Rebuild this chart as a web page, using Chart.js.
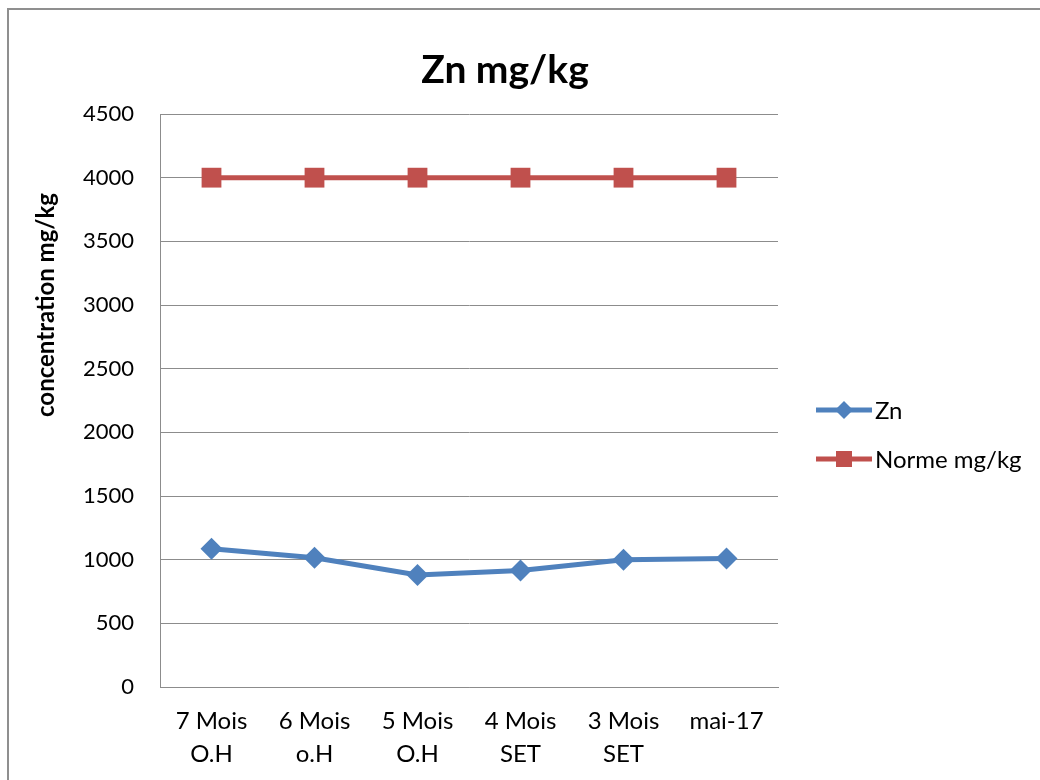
<!DOCTYPE html>
<html>
<head>
<meta charset="utf-8">
<script src="https://cdn.jsdelivr.net/npm/chart.js@4.4.1/dist/chart.umd.min.js"></script>
<style>
  html, body { margin: 0; padding: 0; background: #ffffff; }
  #wrap { width: 1040px; height: 780px; position: relative; }
</style>
</head>
<body>
<div id="wrap"><canvas id="c" width="1040" height="780"></canvas></div>
<script>
// Sampling periods (two-line labels on the category axis)
const categories = [
  ['7 Mois', 'O.H'],
  ['6 Mois', 'o.H'],
  ['5 Mois', 'O.H'],
  ['4 Mois', 'SET'],
  ['3 Mois', 'SET'],
  ['mai-17']
];

// Zinc concentration measured (mg/kg)
const znValues = [1085, 1015, 880, 915, 1000, 1010];

// Regulatory limit (mg/kg)
const normeValues = [4000, 4000, 4000, 4000, 4000, 4000];

// Value axis ticks
const yTicks = [0, 500, 1000, 1500, 2000, 2500, 3000, 3500, 4000, 4500];

const chartTitle = 'Zn mg/kg';
const yAxisTitle = 'concentration mg/kg';
const seriesNames = ['Zn', 'Norme mg/kg'];

const BLUE = '#4F81BD';
const RED = '#C0504D';
const GRID = '#8c8c8c';
const FONT = 'Lato, "Open Sans", "DejaVu Sans", sans-serif';

// Frame, title, rotated axis title and line+marker legend
const decorations = {
  id: 'decorations',
  beforeDraw(chart) {
    const ctx = chart.ctx;
    ctx.save();
    ctx.fillStyle = '#ffffff';
    ctx.fillRect(0, 0, chart.width, chart.height);
    ctx.restore();
  },
  afterDraw(chart) {
    const ctx = chart.ctx;
    ctx.save();
    // outer frame
    ctx.strokeStyle = '#8f8f8f';
    ctx.lineWidth = 2;
    ctx.strokeRect(8, 9, chart.width + 20, chart.height + 20);

    // chart title
    ctx.fillStyle = '#000000';
    ctx.font = 'bold 39px ' + FONT;
    ctx.textAlign = 'center';
    ctx.textBaseline = 'middle';
    ctx.fillText(chartTitle, 505, 70);

    // rotated y-axis title
    ctx.font = 'bold 24px ' + FONT;
    ctx.translate(46, 305);
    ctx.rotate(-Math.PI / 2);
    ctx.fillText(yAxisTitle, 0, 0);
    ctx.restore();

    // legend
    const items = chart.data.datasets.map((ds, i) => ({
      text: seriesNames[i], color: ds.borderColor, style: ds.pointStyle
    }));
    const rows = [410, 459];
    items.forEach((it, i) => {
      const y = rows[i];
      ctx.save();
      ctx.strokeStyle = it.color;
      ctx.lineWidth = 5;
      ctx.beginPath();
      ctx.moveTo(816, y);
      ctx.lineTo(872, y);
      ctx.stroke();
      ctx.fillStyle = it.color;
      const cx = 844;
      if (it.style === 'rectRot') {
        const r = 9;
        ctx.beginPath();
        ctx.moveTo(cx, y - r);
        ctx.lineTo(cx + r, y);
        ctx.lineTo(cx, y + r);
        ctx.lineTo(cx - r, y);
        ctx.closePath();
        ctx.fill();
      } else {
        ctx.fillRect(cx - 8, y - 8, 16, 16);
      }
      ctx.fillStyle = '#000000';
      ctx.font = '24px ' + FONT;
      ctx.textAlign = 'left';
      ctx.textBaseline = 'middle';
      ctx.fillText(it.text, 875, y + 1);
      ctx.restore();
    });
  }
};

new Chart(document.getElementById('c'), {
  type: 'line',
  data: {
    labels: categories,
    datasets: [
      {
        label: seriesNames[0],
        data: znValues,
        borderColor: BLUE,
        backgroundColor: BLUE,
        borderWidth: 5,
        pointStyle: 'rectRot',
        pointRadius: 11,
        pointHoverRadius: 11,
        pointBorderWidth: 0,
        tension: 0
      },
      {
        label: seriesNames[1],
        data: normeValues,
        borderColor: RED,
        backgroundColor: RED,
        borderWidth: 5,
        pointStyle: 'rect',
        pointRadius: 14,
        pointHoverRadius: 14,
        pointBorderWidth: 0,
        tension: 0
      }
    ]
  },
  options: {
    responsive: false,
    animation: false,
    devicePixelRatio: 1,
    layout: { padding: { left: 0, right: 262, top: 114, bottom: 0 } },
    plugins: {
      legend: { display: false },
      tooltip: { enabled: false },
      title: { display: false }
    },
    scales: {
      x: {
        offset: true,
        grid: { display: false, drawTicks: false },
        border: { display: true, color: GRID, width: 1 },
        ticks: {
          color: '#000000',
          padding: 18,
          maxRotation: 0,
          autoSkip: false,
          font: { family: FONT, size: 24, lineHeight: 1.375 }
        },
        afterFit(scale) { scale.height = 93; }
      },
      y: {
        min: 0,
        max: 4500,
        afterBuildTicks(scale) { scale.ticks = yTicks.map(v => ({ value: v })); },
        grid: { color: GRID, lineWidth: 1, drawTicks: false },
        border: { display: true, color: GRID, width: 1 },
        ticks: {
          color: '#000000',
          padding: 26,
          font: { family: FONT, size: 22 },
          callback: (v) => String(v)
        },
        afterFit(scale) { scale.width = 160; }
      }
    }
  },
  plugins: [decorations]
});
</script>
</body>
</html>
